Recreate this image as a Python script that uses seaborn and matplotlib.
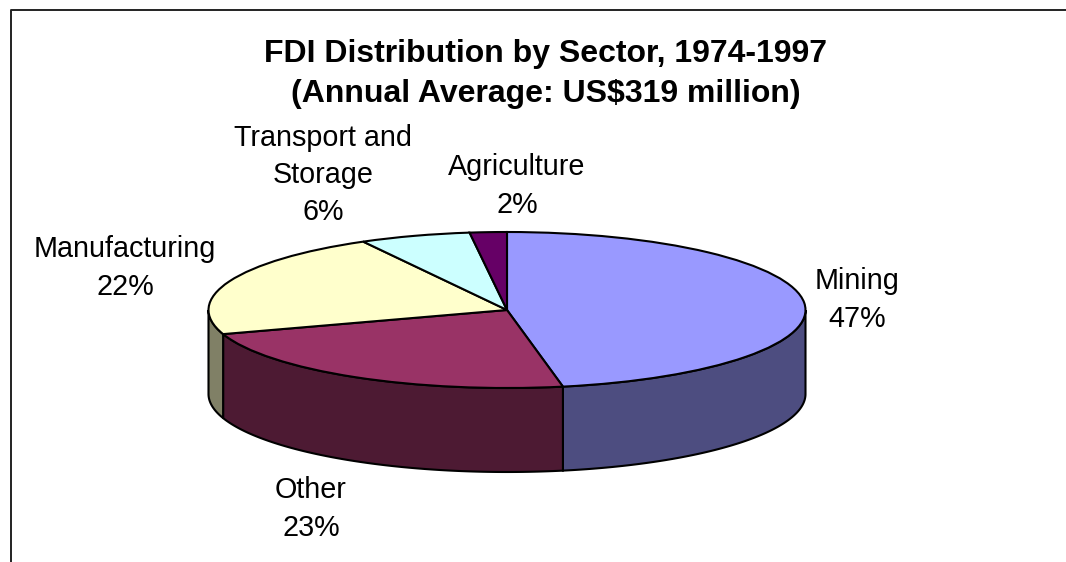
import numpy as np
import seaborn as sns
import matplotlib.pyplot as plt

sectors = ["Mining", "Other", "Manufacturing", "Transport and\nStorage", "Agriculture"]
shares = [47, 23, 22, 6, 2]
top_colors = ["#9999FF", "#993366", "#FFFFCC", "#CCFFFF", "#660066"]
side_colors = ["#4D4D80", "#4D1A33", "#808066", "#668080", "#330033"]
title = "FDI Distribution by Sector, 1974-1997\n(Annual Average: US$319 million)"

W, H = 1066, 562
cx, cy = 507, 310
rx, ry = 298.5, 78
depth = 84 / ry

sns.set_theme(style="white")
plt.rcParams["font.family"] = ["Liberation Sans", "DejaVu Sans"]

fig = plt.figure(figsize=(W / 100, H / 100), dpi=100, facecolor="white")
ax = fig.add_axes([0, 0, 1, 1])

# top face, squashed by the axis limits
ax.pie(shares, colors=top_colors, startangle=90, counterclock=False,
       wedgeprops=dict(edgecolor="black", linewidth=1.5))
ax.set_aspect("auto")
ax.set_xlim(-cx / rx, (W - cx) / rx)
ax.set_ylim((cy - H) / ry, cy / ry)

# side wall, only the front half of the rim shows
edges = np.cumsum([0] + shares) / sum(shares) * 2 * np.pi
for i in range(len(shares)):
    a0, a1 = max(edges[i], np.pi / 2), min(edges[i + 1], 3 * np.pi / 2)
    if a1 <= a0:
        continue
    t = np.linspace(a0, a1, 120)
    x = np.sin(t)
    y = np.cos(t)
    ax.fill(np.r_[x, x[::-1]], np.r_[y, y[::-1] - depth], facecolor=side_colors[i],
            edgecolor="black", linewidth=1.5, zorder=0.5)

for s in ax.spines.values():
    s.set_visible(False)
ax.set_xticks([])
ax.set_yticks([])

# chart frame is open at the right and the bottom
fig.add_artist(plt.Line2D([10.5 / W, 10.5 / W, 1], [0, 1 - 10 / H, 1 - 10 / H], color="#222222", lw=1.4))

fig.text(545.5 / W, 1 - 74 / H, title, ha="center", va="center", fontsize=23, fontweight="bold",
         color="black", linespacing=1.44)

label_pos = [(857, 300), (311, 509), (125, 268), (323, 175), (517, 186)]
for name, val, (px, py) in zip(sectors, shares, label_pos):
    fig.text(px / W, 1 - py / H, f"{name}\n{val}%", ha="center", va="center", fontsize=20.7,
             color="black", linespacing=1.43)

fig.savefig("out.png", dpi=100)
